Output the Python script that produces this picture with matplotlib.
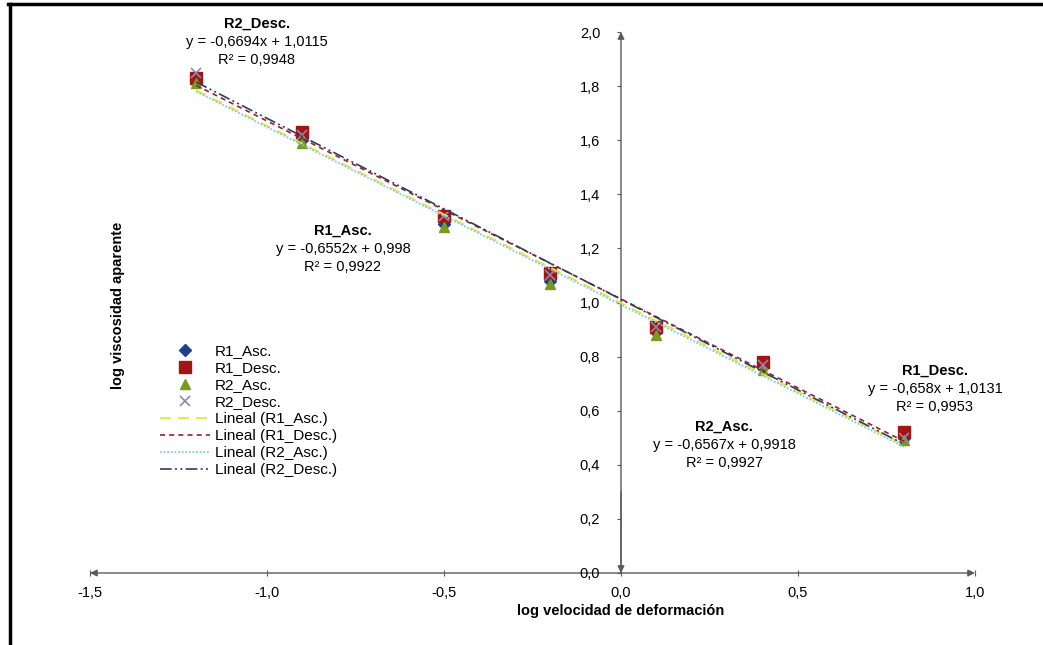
import matplotlib
matplotlib.use("Agg")
import matplotlib.pyplot as plt
from matplotlib.ticker import FuncFormatter, FixedLocator
from matplotlib.lines import Line2D
import numpy as np

plt.rcParams['font.family'] = ['Liberation Sans', 'DejaVu Sans']

# log shear rate (x) and log apparent viscosity (y) per run
log_rate = [-1.2, -0.9, -0.5, -0.2, 0.1, 0.4, 0.8]
r1_asc = [1.82, 1.60, 1.29, 1.08, 0.89, 0.76, 0.50]
r1_desc = [1.83, 1.63, 1.32, 1.11, 0.91, 0.78, 0.52]
r2_asc = [1.81, 1.59, 1.28, 1.07, 0.88, 0.75, 0.49]
r2_desc = [1.85, 1.62, 1.32, 1.10, 0.91, 0.77, 0.50]

series_names = ["R1_Asc.", "R1_Desc.", "R2_Asc.", "R2_Desc."]

# linear trendline coefficients and fit quality per series
slopes = [-0.6552, -0.658, -0.6567, -0.6694]
intercepts = [0.998, 1.0131, 0.9918, 1.0115]
r_squared = [0.9922, 0.9953, 0.9927, 0.9948]

x_ticks = [-1.5, -1.0, -0.5, 0.0, 0.5, 1.0]
y_ticks = [0.0, 0.2, 0.4, 0.6, 0.8, 1.0, 1.2, 1.4, 1.6, 1.8, 2.0]

W, H = 1043, 645
fig = plt.figure(figsize=(W / 100, H / 100), dpi=100)
ax = fig.add_axes([90 / W, 1 - 573 / H, 885 / W, 541 / H])
ax.set_xlim(-1.5, 1.0)
ax.set_ylim(0.0, 2.0)

axis_color = "#5a5a5a"

# markers
marker_styles = [
    dict(marker="D", color="#1f3f8f", ms=6),
    dict(marker="s", color="#a31515", ms=8),
    dict(marker="^", color="#7a9a1e", ms=7.5),
    dict(marker="x", color="#8e88aa", ms=7, mew=1.2),
]
data = [r1_asc, r1_desc, r2_asc, r2_desc]
for vals, name, st in zip(data, series_names, marker_styles):
    ax.plot(log_rate, vals, linestyle="none", marker=st["marker"], color=st["color"],
            markersize=st["ms"], mew=st.get("mew", 1.0), label=name, zorder=3)

# trendlines
line_styles = [
    dict(color="#e8e830", ls=(0, (6, 4)), lw=1.3),
    dict(color="#9b1b3a", ls=(0, (3, 2.5)), lw=1.2),
    dict(color="#7fc8e8", ls=(0, (1, 1)), lw=1.3),
    dict(color="#2a4060", ls=(0, (7, 2, 1.2, 2, 1.2, 2)), lw=1.2),
]
xs = np.array([min(log_rate), max(log_rate)])
for m, b, name, st in zip(slopes, intercepts, series_names, line_styles):
    ax.plot(xs, m * xs + b, label=f"Lineal ({name})", zorder=4, **st)

# axes crossing at the origin, Excel style
for s in ["top", "right", "left", "bottom"]:
    ax.spines[s].set_visible(False)
ax.spines["left"].set_position(("data", 0))
ax.spines["bottom"].set_position(("data", 0))

ax.annotate("", xy=(0, 2.0), xytext=(0, 0.0),
            arrowprops=dict(arrowstyle="-|>", color=axis_color, lw=1.0,
                            mutation_scale=10, shrinkA=0, shrinkB=0), zorder=1)
ax.annotate("", xy=(0, 0.0), xytext=(0, 0.3),
            arrowprops=dict(arrowstyle="-|>", color=axis_color, lw=1.0,
                            mutation_scale=10, shrinkA=0, shrinkB=0), zorder=1)
ax.annotate("", xy=(1.0, 0), xytext=(-1.5, 0),
            arrowprops=dict(arrowstyle="<|-|>", color=axis_color, lw=1.0,
                            mutation_scale=10, shrinkA=0, shrinkB=0), zorder=1)

fmt = FuncFormatter(lambda v, p: f"{v:.1f}".replace(".", ",").replace("-0,0", "0,0"))
ax.xaxis.set_major_locator(FixedLocator(x_ticks))
ax.yaxis.set_major_locator(FixedLocator(y_ticks))
ax.xaxis.set_major_formatter(fmt)
ax.yaxis.set_major_formatter(fmt)
ax.tick_params(axis="x", direction="inout", length=5, color=axis_color, labelsize=10.5, pad=7)
ax.tick_params(axis="y", direction="out", length=3, color=axis_color, labelsize=10.5, pad=12)

# axis titles
fig.text(621 / W, 1 - 611 / H, "log velocidad de deformación", ha="center", va="center",
         fontsize=10.5, fontweight="bold")
fig.text(118 / W, 1 - 305 / H, "log viscosidad aparente", ha="center", va="center",
         rotation=90, fontsize=10.5, fontweight="bold")

# trendline labels
def fmt_num(v):
    return f"{v}".replace(".", ",")

label_pos = {
    "R1_Asc.": (343, 231),
    "R1_Desc.": (935, 371),
    "R2_Asc.": (724, 427),
    "R2_Desc.": (257, 24),
}
for name, m, b, r2 in zip(series_names, slopes, intercepts, r_squared):
    px, py = label_pos[name]
    fig.text(px / W, 1 - py / H, name, ha="center", va="center", fontsize=10.5,
             fontweight="bold")
    fig.text(px / W, 1 - (py + 18) / H, f"y = {fmt_num(m)}x + {fmt_num(b)}",
             ha="center", va="center", fontsize=10.5)
    fig.text(px / W, 1 - (py + 36) / H, f"R² = {fmt_num(r2)}",
             ha="center", va="center", fontsize=10.5)

# legend
leg = ax.legend(loc="upper left", bbox_to_anchor=(160 / W, 1 - 344 / H),
                bbox_transform=fig.transFigure, frameon=False, fontsize=11,
                labelspacing=0.2, handlelength=3.3, handletextpad=0.3,
                borderpad=0, borderaxespad=0)

# outer frame on the left and top
fig.add_artist(Line2D([9.5 / W, 9.5 / W], [0, 1 - 4 / H], color="black", lw=2.5,
                      transform=fig.transFigure))
fig.add_artist(Line2D([8 / W, 1], [1 - 4 / H, 1 - 4 / H], color="black", lw=2.5,
                      transform=fig.transFigure))

fig.savefig("out.png", dpi=100)
